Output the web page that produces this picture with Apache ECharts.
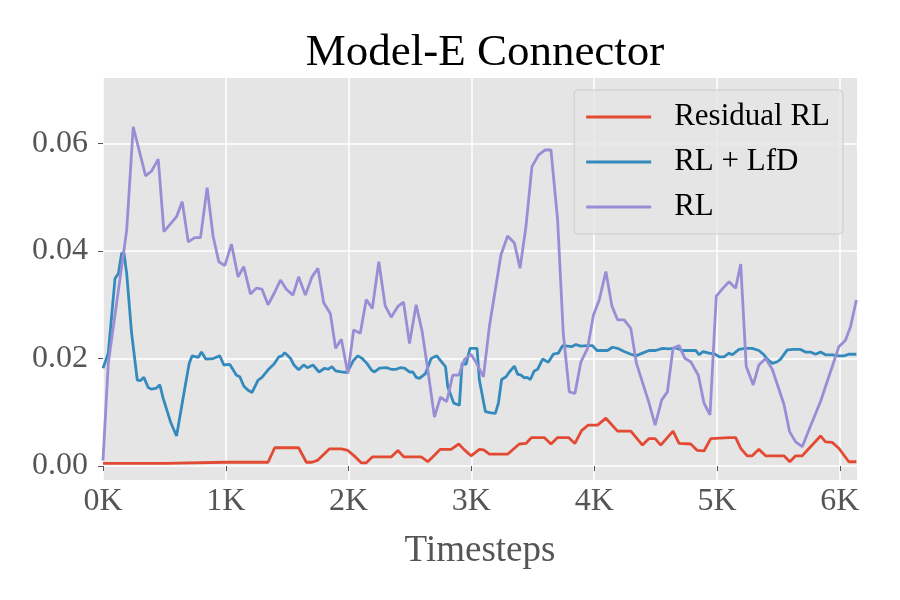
<!DOCTYPE html>
<html>
<head>
<meta charset="utf-8">
<title>Model-E Connector</title>
<script src="https://cdn.jsdelivr.net/npm/echarts@6/dist/echarts.min.js"></script>
<style>
html,body{margin:0;padding:0;background:#fff;}
#chart{width:900px;height:600px;}
</style>
</head>
<body>
<div id="chart"></div>
<script>
// timesteps + values
var residualT = [0,500,1000,1344,1398,1593,1656,1702,1750,1845,1941,1994,2055,2103,2144,2193,2347,2401,2450,2591,2645,2699,2745,2835,2897,2943,2997,3065,3100,3146,3295,3350,3390,3444,3490,3593,3648,3702,3791,3843,3897,3951,4027,4095,4190,4298,4393,4447,4496,4542,4642,4691,4786,4840,4894,4949,5098,5152,5193,5246,5287,5341,5396,5545,5593,5640,5694,5843,5884,5938,5992,6073,6135];
var residualV = [0.0005,0.0005,0.0007,0.0007,0.0034,0.0034,0.0007,0.0007,0.0011,0.0032,0.0032,0.0029,0.0017,0.0006,0.0006,0.0017,0.0017,0.0029,0.0017,0.0017,0.0008,0.002,0.0031,0.0031,0.0041,0.003,0.0019,0.0031,0.003,0.0022,0.0022,0.0033,0.0041,0.0042,0.0053,0.0053,0.0041,0.0053,0.0053,0.0042,0.0066,0.0076,0.0076,0.0089,0.0065,0.0065,0.0039,0.0051,0.0051,0.0039,0.0065,0.0042,0.0041,0.0029,0.0028,0.0051,0.0053,0.0053,0.0033,0.0019,0.0019,0.0031,0.0019,0.0019,0.0008,0.0019,0.0019,0.0056,0.0045,0.0044,0.0033,0.0008,0.0008];

var lfdT = [0,43,98,125,152,171,193,233,279,306,333,368,396,436,463,490,550,599,667,702,726,775,802,837,897,951,984,1033,1087,1114,1146,1181,1214,1263,1295,1344,1393,1431,1458,1480,1528,1555,1593,1634,1664,1710,1759,1805,1832,1864,1894,1941,1987,2041,2076,2111,2149,2185,2211,2252,2307,2347,2388,2420,2455,2496,2523,2550,2577,2626,2672,2718,2767,2789,2807,2856,2902,2924,2956,2989,3046,3065,3114,3160,3195,3220,3246,3282,3309,3350,3376,3404,3431,3453,3480,3512,3539,3580,3626,3667,3707,3743,3783,3816,3851,3892,3946,3986,4022,4081,4108,4149,4190,4244,4298,4339,4393,4447,4501,4556,4610,4664,4718,4772,4827,4854,4886,4935,4984,5022,5057,5098,5125,5179,5233,5287,5341,5382,5409,5450,5491,5518,5572,5626,5680,5721,5762,5802,5843,5884,5938,5992,6033,6073,6135];
var lfdV = [0.0182,0.021,0.0349,0.0358,0.0396,0.0396,0.0358,0.0247,0.016,0.0159,0.0165,0.0146,0.0143,0.0145,0.0151,0.0126,0.0082,0.0056,0.0146,0.0191,0.0205,0.0202,0.0212,0.0199,0.02,0.0205,0.0188,0.0189,0.0169,0.0166,0.0149,0.0141,0.0137,0.016,0.0165,0.0179,0.019,0.0203,0.0205,0.0211,0.02,0.0188,0.0179,0.0188,0.0183,0.0188,0.0175,0.0182,0.018,0.0185,0.0177,0.0175,0.0174,0.0197,0.0205,0.02,0.0191,0.0179,0.0175,0.0182,0.0183,0.018,0.018,0.0183,0.0182,0.0175,0.0175,0.0165,0.0163,0.0172,0.02,0.0205,0.0191,0.0185,0.0148,0.0117,0.0113,0.0191,0.0189,0.0219,0.0219,0.016,0.0101,0.0099,0.0098,0.0117,0.0161,0.0166,0.0175,0.0186,0.0171,0.0169,0.0164,0.0165,0.0161,0.0177,0.018,0.0199,0.0193,0.0208,0.021,0.0224,0.0223,0.0222,0.0226,0.0223,0.0224,0.0224,0.0215,0.0215,0.0215,0.0221,0.0219,0.0213,0.0208,0.0205,0.021,0.0215,0.0215,0.0219,0.0218,0.022,0.0215,0.0215,0.0215,0.0207,0.0213,0.021,0.0208,0.0203,0.0203,0.021,0.0207,0.0217,0.0219,0.0219,0.0215,0.0207,0.0199,0.0191,0.0194,0.0199,0.0216,0.0217,0.0217,0.0212,0.0212,0.0208,0.0212,0.0207,0.0207,0.0205,0.0205,0.0208,0.0208];

var rlT = [0,43,193,246,347,396,450,496,599,645,694,748,794,848,897,943,992,1046,1100,1146,1201,1249,1295,1344,1393,1445,1493,1547,1593,1648,1702,1750,1797,1851,1894,1941,1994,2041,2095,2144,2193,2246,2298,2347,2401,2447,2496,2550,2599,2645,2699,2748,2799,2848,2897,2943,2997,3040,3098,3146,3241,3295,3350,3396,3444,3493,3547,3599,3648,3702,3748,3797,3843,3892,3946,3994,4041,4095,4144,4190,4244,4298,4344,4447,4496,4550,4596,4642,4691,4740,4786,4848,4894,4943,4994,5049,5098,5152,5193,5238,5295,5341,5396,5450,5545,5591,5640,5694,5748,5843,5992,6046,6087,6135];
var rlV = [0.001,0.0191,0.0439,0.0631,0.054,0.0549,0.0571,0.0436,0.0464,0.0492,0.0417,0.0425,0.0425,0.0518,0.0427,0.038,0.0373,0.0413,0.0352,0.0371,0.032,0.0331,0.0329,0.03,0.0321,0.0346,0.0329,0.0318,0.0352,0.0318,0.0352,0.0368,0.0304,0.0284,0.0219,0.0236,0.0172,0.0253,0.0247,0.031,0.0293,0.038,0.0298,0.0277,0.0297,0.0305,0.0228,0.03,0.025,0.0179,0.0091,0.0128,0.012,0.0169,0.0169,0.0198,0.0208,0.0192,0.0166,0.0259,0.0393,0.0428,0.0415,0.0368,0.0445,0.0557,0.0579,0.0588,0.0588,0.0458,0.0247,0.0138,0.0135,0.0194,0.0219,0.0281,0.0309,0.0362,0.0298,0.0272,0.0272,0.0256,0.0191,0.0117,0.0076,0.0123,0.0138,0.0219,0.0224,0.02,0.0194,0.0169,0.0117,0.0095,0.0316,0.0331,0.0343,0.0331,0.0376,0.0185,0.0151,0.0188,0.02,0.018,0.0115,0.0064,0.0045,0.0036,0.0067,0.012,0.0222,0.0234,0.0259,0.0309];

var xTicks = [0,1000,2000,3000,4000,5000,6000];
var yTicks = [0,0.02,0.04,0.06];

function zip(t, v){
    var out = [];
    for (var i = 0; i < t.length; i++) out.push([t[i], v[i]]);
    return out;
}

var serif = '"Liberation Serif","DejaVu Serif",serif';

var chart = echarts.init(document.getElementById('chart'));
chart.setOption({
    animation:false,
    title:{
        text:'Model-E Connector',
        left:480,
        textAlign:'center',
        top:26,
        textStyle:{fontFamily:serif,fontSize:45,fontWeight:'normal',color:'#000'}
    },
    legend:{
        orient:'vertical',
        right:57,
        top:90,
        padding:[10,13,10,12],
        itemGap:11,
        itemWidth:65,
        itemHeight:3,
        icon:'rect',
        backgroundColor:'rgba(229,229,229,0.8)',
        borderColor:'#cccccc',
        borderWidth:1,
        borderRadius:4,
        textStyle:{fontFamily:serif,fontSize:31,color:'#000',lineHeight:34,padding:[0,0,0,18]},
        data:['Residual RL','RL + LfD','RL']
    },
    grid:{
        left:103,right:43,top:78,bottom:120,
        show:true,backgroundColor:'#E5E5E5',borderWidth:0
    },
    xAxis:{
        type:'value',
        min:0,max:6140,
        name:'Timesteps',
        nameLocation:'middle',
        nameGap:53,
        nameTextStyle:{fontFamily:serif,fontSize:37,color:'#555'},
        axisLine:{show:false},
        axisTick:{show:true,length:5,lineStyle:{color:'#555'},customValues:xTicks},
        axisLabel:{
            customValues:xTicks,
            margin:6,
            fontFamily:serif,fontSize:32,color:'#555',
            formatter:function(v){return (v/1000)+'K';}
        },
        splitLine:{show:true,lineStyle:{color:'#fff',width:1.5}}
    },
    yAxis:{
        type:'value',
        min:-0.0026,max:0.0722,
        axisLine:{show:false},
        axisTick:{show:true,length:5,lineStyle:{color:'#555'},customValues:yTicks},
        axisLabel:{
            customValues:yTicks,
            margin:15,
            fontFamily:serif,fontSize:32,color:'#555',
            formatter:function(v){return v.toFixed(2);}
        },
        splitLine:{show:true,lineStyle:{color:'#fff',width:1.5}}
    },
    series:[
        {name:'Residual RL',type:'line',symbol:'none',data:zip(residualT,residualV),
         lineStyle:{width:2.8,color:'#E24A33'},itemStyle:{color:'#E24A33'}},
        {name:'RL + LfD',type:'line',symbol:'none',data:zip(lfdT,lfdV),
         lineStyle:{width:2.8,color:'#348ABD'},itemStyle:{color:'#348ABD'}},
        {name:'RL',type:'line',symbol:'none',data:zip(rlT,rlV),
         lineStyle:{width:2.8,color:'#988ED5'},itemStyle:{color:'#988ED5'}}
    ]
});
</script>
</body>
</html>
